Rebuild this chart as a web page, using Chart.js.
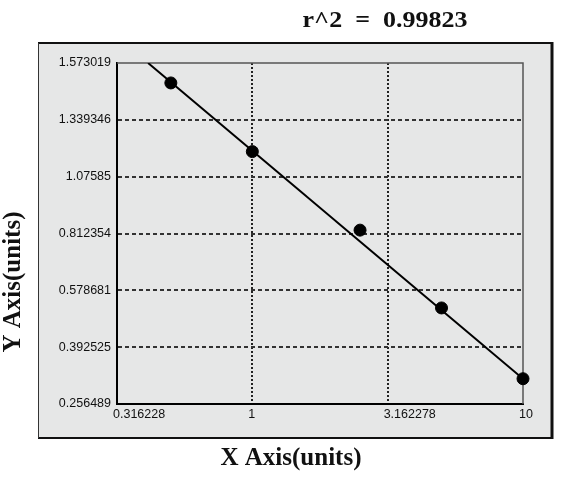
<!DOCTYPE html>
<html>
<head>
<meta charset="utf-8">
<script src="https://cdn.jsdelivr.net/npm/chart.js@4"></script>
<style>
  html, body { margin: 0; padding: 0; background: #fff; }
  #c { display: block; }
</style>
</head>
<body>
<canvas id="c" width="579" height="481"></canvas>
<script>
// ---- data ----
const xTickValues = [0.316228, 1, 3.162278, 10];
const xTickLabels = ['0.316228', '1', '3.162278', '10'];
const yTickValues = [0.256489, 0.392525, 0.578681, 0.812354, 1.07585, 1.339346, 1.573019];
const yTickLabels = ['0.256489', '0.392525', '0.578681', '0.812354', '1.07585', '1.339346', '1.573019'];
const stdX = [0.5, 1, 2.5, 5, 10];
const stdY = [1.491, 1.192, 0.828, 0.521, 0.317];
const fitX = [0.412, 10];
const fitY = [1.573019, 0.317];
const titleText = 'r^2  =  0.99823';
const xTitle = 'X Axis(units)';
const yTitle = 'Y Axis(units)';

// the reference's y axis is evenly spaced by tick; map values onto tick positions
function toPos(v) {
  const n = yTickValues.length;
  for (let i = 0; i < n - 1; i++) {
    if (v <= yTickValues[i + 1] || i === n - 2) {
      return i + (v - yTickValues[i]) / (yTickValues[i + 1] - yTickValues[i]);
    }
  }
}

const stdPts = stdX.map((x, i) => ({ x: x, y: toPos(stdY[i]) }));
const fitPts = fitX.map((x, i) => ({ x: x, y: toPos(fitY[i]) }));

const PANEL = { l: 38, t: 43, r: 552, b: 438 };
const BG = '#e6e7e7';

const decor = {
  id: 'decor',
  beforeDraw(chart) {
    const ctx = chart.ctx;
    ctx.save();
    ctx.fillStyle = BG;
    ctx.fillRect(PANEL.l, PANEL.t, PANEL.r - PANEL.l, PANEL.b - PANEL.t);
    ctx.strokeStyle = '#111';
    ctx.lineWidth = 2;
    ctx.beginPath(); ctx.moveTo(PANEL.l, PANEL.t); ctx.lineTo(PANEL.r, PANEL.t); ctx.stroke();
    ctx.beginPath(); ctx.moveTo(PANEL.l, PANEL.b); ctx.lineTo(PANEL.r, PANEL.b); ctx.stroke();
    ctx.lineWidth = 3;
    ctx.beginPath(); ctx.moveTo(PANEL.r, PANEL.t - 1); ctx.lineTo(PANEL.r, PANEL.b + 1); ctx.stroke();
    ctx.lineWidth = 1;
    ctx.strokeStyle = '#333';
    ctx.beginPath(); ctx.moveTo(PANEL.l + 0.5, PANEL.t); ctx.lineTo(PANEL.l + 0.5, PANEL.b); ctx.stroke();
    ctx.restore();
  },
  beforeDatasetsDraw(chart) {
    const ctx = chart.ctx, a = chart.chartArea;
    ctx.save();
    ctx.strokeStyle = '#555';
    ctx.lineWidth = 1.5;
    ctx.beginPath();
    ctx.moveTo(a.left, a.top);
    ctx.lineTo(a.right, a.top);
    ctx.lineTo(a.right, a.bottom);
    ctx.stroke();
    ctx.restore();
  },
  afterDraw(chart) {
    const ctx = chart.ctx;
    ctx.save();
    ctx.fillStyle = '#111';
    ctx.textAlign = 'center';
    ctx.textBaseline = 'alphabetic';
    ctx.save();
    ctx.translate(385, 27);
    ctx.scale(1.13, 1);
    ctx.font = 'bold 23px "Liberation Serif", "DejaVu Serif", serif';
    ctx.fillText(titleText, 0, 0);
    ctx.restore();
    ctx.font = 'bold 25px "Liberation Serif", "DejaVu Serif", serif';
    ctx.fillText(xTitle, 291, 465);
    ctx.save();
    ctx.translate(20, 282);
    ctx.rotate(-Math.PI / 2);
    ctx.fillText(yTitle, 0, 0);
    ctx.restore();
    ctx.restore();
  }
};

new Chart(document.getElementById('c'), {
  type: 'scatter',
  data: {
    datasets: [
      {
        label: 'fit',
        data: fitPts,
        showLine: true,
        borderColor: '#000',
        borderWidth: 2,
        pointRadius: 0,
        fill: false
      },
      {
        label: 'standards',
        data: stdPts,
        showLine: false,
        clip: false,
        pointRadius: 6,
        pointBackgroundColor: '#000',
        pointBorderColor: '#000',
        pointBorderWidth: 1
      }
    ]
  },
  options: {
    responsive: false,
    animation: false,
    layout: { padding: { left: 38, right: 56, top: 63, bottom: 47 } },
    plugins: { legend: { display: false }, tooltip: { enabled: false }, title: { display: false } },
    scales: {
      x: {
        type: 'logarithmic',
        bounds: 'data',
        min: xTickValues[0],
        max: xTickValues[xTickValues.length - 1],
        afterBuildTicks(scale) {
          scale.ticks = xTickValues.map(v => ({ value: v }));
          scale.min = xTickValues[0];
          scale.max = xTickValues[xTickValues.length - 1];
        },
        afterFit(scale) { scale.height = 30; },
        grid: {
          drawTicks: false,
          color: (c) => (c.index === 0 || c.index === xTickValues.length - 1) ? 'rgba(0,0,0,0)' : '#222',
          lineWidth: 2
        },
        border: { display: true, color: '#000', width: 2, dash: [2, 2] },
        ticks: {
          autoSkip: false,
          maxRotation: 0,
          minRotation: 0,
          align: 'start',
          labelOffset: -4,
          padding: 3,
          color: '#111',
          font: { family: '"Liberation Sans", Arial, sans-serif', size: 12.5 },
          callback: (v, i) => xTickLabels[i]
        }
      },
      y: {
        type: 'linear',
        min: 0,
        max: yTickValues.length - 1,
        afterBuildTicks(scale) { scale.ticks = yTickValues.map((v, i) => ({ value: i })); },
        afterFit(scale) { scale.width = 79; },
        grid: {
          drawTicks: false,
          color: (c) => (c.index === 0 || c.index === yTickValues.length - 1) ? 'rgba(0,0,0,0)' : '#333',
          lineWidth: 2
        },
        border: { display: true, color: '#000', width: 2, dash: [4, 3] },
        ticks: {
          autoSkip: false,
          padding: 6,
          color: '#111',
          font: { family: '"Liberation Sans", Arial, sans-serif', size: 12.5 },
          callback: (v, i) => yTickLabels[i]
        }
      }
    }
  },
  plugins: [decor]
});
</script>
</body>
</html>
